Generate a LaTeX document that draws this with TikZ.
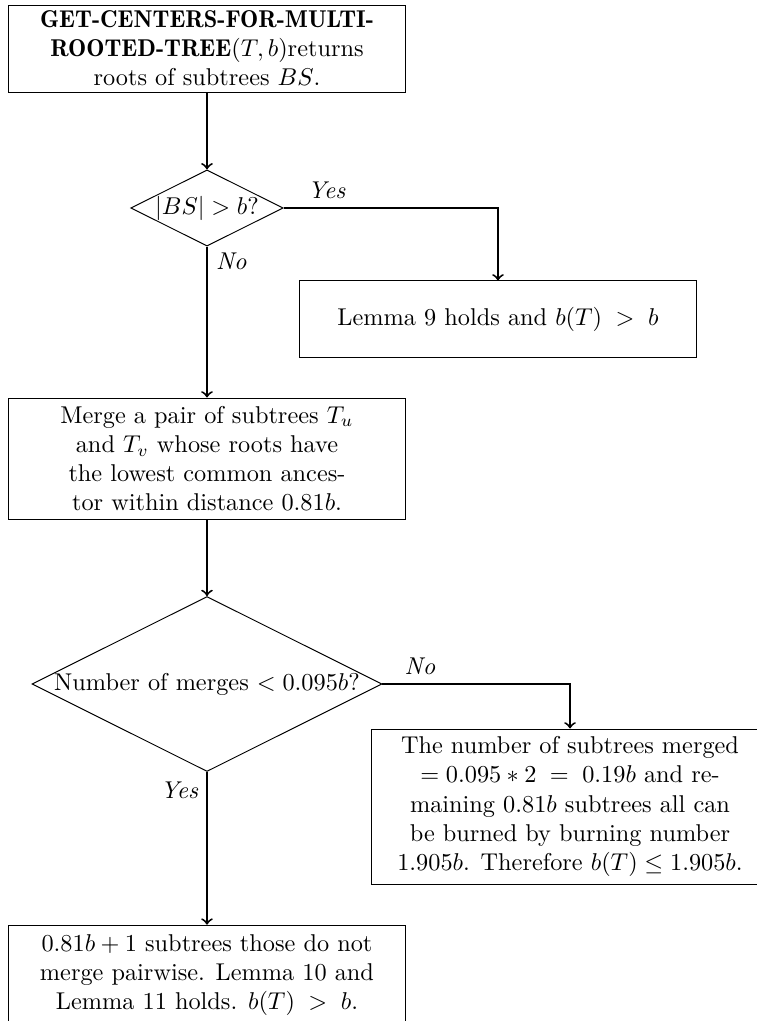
\documentclass[tikz,border=0pt]{standalone}
\usetikzlibrary{shapes.geometric,arrows}
\newcommand{\hdbold}[1]{{\fontseries{b}\selectfont #1}}
\begin{document}
\begin{tikzpicture}[x=0.4115pt,y=-0.4115pt,
  box/.style={draw, rectangle, align=center, minimum width=163pt, inner xsep=3pt, inner ysep=2pt},
  dec/.style={draw, diamond, aspect=2, inner sep=0pt},
  conn/.style={thick, ->},
  lbl/.style={font=\itshape}]
\useasboundingbox (0,0) rectangle (757,1021);
\node[box, minimum height=35.8pt] (start) at (207,48.5)
  {\hdbold{GET-CENTERS-FOR-MULTI-}\\\hdbold{ROOTED-TREE}$(T,b)$returns\\roots of subtrees $BS$.};
\node[dec] (q1) at (207,208) {$|BS|>b$?};
\node[box, minimum height=31.3pt] (lem9) at (498,319) {Lemma 9 holds and $b(T)\;>\;b$};
\node[box, minimum height=49.8pt] (merge) at (207,458.5)
  {Merge a pair of subtrees $T_u$\\and $T_v$ whose roots have\\the lowest common ances-\\tor within distance $0.81b$.};
\node[dec] (q2) at (207,684) {Number of merges $<0.095b$?};
\node[box, minimum height=63.8pt] (res) at (570,806.5)
  {The number of subtrees merged\\$=0.095*2\;=\;0.19b$ and re-\\maining $0.81b$ subtrees all can\\be burned by burning number\\$1.905b$. Therefore $b(T)\leq 1.905b$.};
\node[box, minimum height=41pt] (fin) at (207,975)
  {$0.81b+1$ subtrees those do not\\merge pairwise. Lemma 10 and\\Lemma 11 holds. $b(T)\;>\;b$.};
\draw[conn] (start) -- (q1);
\draw[conn] (q1.east) -| node[lbl, pos=0.1, above] {Yes} (lem9.north);
\draw[conn] (q1.south) -- node[lbl, pos=0.1, right] {No} (merge.north);
\draw[conn] (merge) -- (q2);
\draw[conn] (q2.east) -| node[lbl, pos=0.1, above] {No} (res.north);
\draw[conn] (q2.south) -- node[lbl, pos=0.12, left] {Yes} (fin.north);
\end{tikzpicture}
\end{document}
